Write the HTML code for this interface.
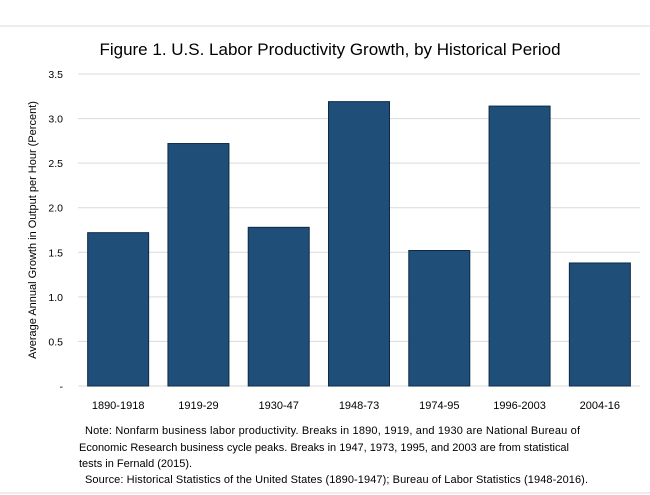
<!DOCTYPE html>
<html><head><meta charset="utf-8"><style>
body{margin:0;background:#fff;font-family:"Liberation Sans",sans-serif;}
svg{display:block}
</style></head><body>
<svg width="650" height="495" xmlns="http://www.w3.org/2000/svg">
<line x1="0" y1="26" x2="650" y2="26" stroke="#d9d9d9"/>
<line x1="0" y1="493" x2="650" y2="493" stroke="#d9d9d9"/>
<text x="330" y="55" text-anchor="middle" font-size="17" fill="#000">Figure 1.  U.S. Labor Productivity Growth, by Historical Period</text>
<g id="grid"></g><g id="bars"></g><g id="ticks"></g>
<text transform="translate(36,230) rotate(-90)" text-anchor="middle" font-size="11" fill="#000">Average Annual Growth in Output per Hour (Percent)</text>
<g font-size="11" fill="#000">
<text x="85" y="434" textLength="495">Note:  Nonfarm business labor productivity.  Breaks in 1890, 1919, and 1930 are National Bureau of</text>
<text x="79" y="451" textLength="490">Economic Research business cycle peaks.  Breaks in 1947, 1973, 1995, and 2003 are from statistical</text>
<text x="79" y="467">tests in Fernald (2015).</text>
<text x="85" y="483" textLength="503">Source:  Historical Statistics of the United States (1890-1947); Bureau of Labor Statistics (1948-2016).</text>
</g>
</svg>
<script>
const categories=["1890-1918","1919-29","1930-47","1948-73","1974-95","1996-2003","2004-16"];
const values=[1.72,2.72,1.78,3.19,1.52,3.14,1.38];
const yTicks=[0,0.5,1.0,1.5,2.0,2.5,3.0,3.5];
const yTickLabels=["-","0.5","1.0","1.5","2.0","2.5","3.0","3.5"];
const NS="http://www.w3.org/2000/svg";
const x0=78,x1=640,y0=386,yTop=74,yMax=3.5;
const bw=(x1-x0)/categories.length;
const ys=v=>y0-(v/yMax)*(y0-yTop);
const xc=i=>x0+bw*(i+0.5);
function mk(t,a,p){const e=document.createElementNS(NS,t);for(const k in a)e.setAttribute(k,a[k]);p.appendChild(e);return e;}
const grid=document.getElementById('grid'),bars=document.getElementById('bars'),ticks=document.getElementById('ticks');
yTicks.forEach((v,i)=>{
 const l=mk('line',{x1:x0,x2:x1,y1:ys(v),y2:ys(v),stroke:'#d9d9d9','stroke-width':1},grid);
 
 
 const t=mk('text',{x:63,y:ys(v)+4,'text-anchor':'end','font-size':'10.5',fill:'#000'},ticks);
 t.textContent=yTickLabels[i];
 
 
});
values.forEach((v,i)=>{
 const r=mk('rect',{x:xc(i)-30.5,y:ys(v),width:61,height:y0-ys(v),fill:'#1f4e79',stroke:'#0d2a45','stroke-width':1},bars);
 
 
 const t=mk('text',{x:xc(i),y:409,'text-anchor':'middle','font-size':'11',fill:'#000'},ticks);
 t.textContent=categories[i];
 
 
});
</script>
</body></html>
